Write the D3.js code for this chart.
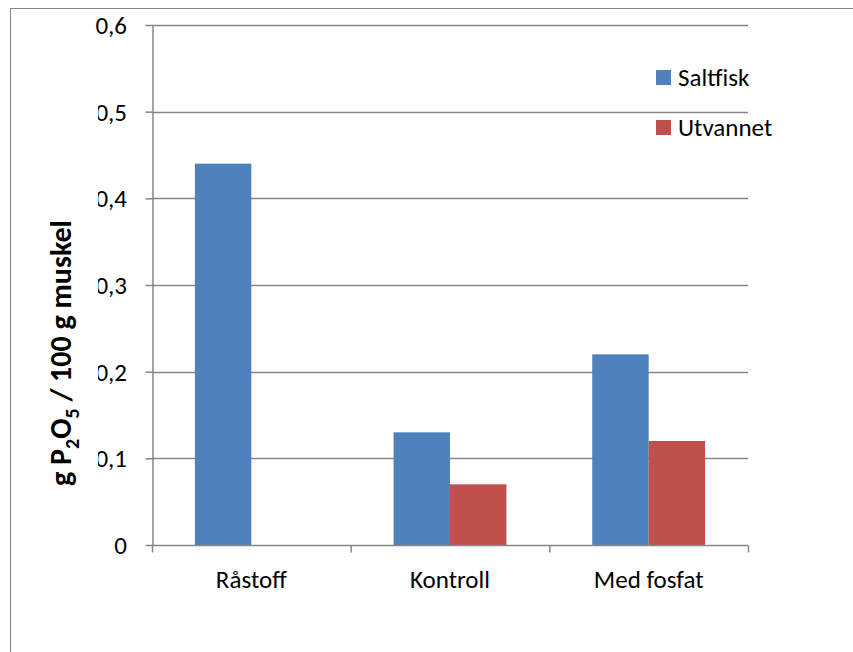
<!DOCTYPE html>
<html>
<head>
<meta charset="utf-8">
<script src="https://cdn.jsdelivr.net/npm/d3@7"></script>
<style>
  body { margin: 0; background: #fff; }
  svg { display: block; font-family: Carlito, Calibri, Lato, sans-serif; }
</style>
</head>
<body>
<div id="chart"></div>
<script>
// data
const categories = ["Råstoff", "Kontroll", "Med fosfat"];
const seriesNames = ["Saltfisk", "Utvannet"];
const saltfisk = [0.44, 0.13, 0.22];
const utvannet = [null, 0.07, 0.12];
const yTicks = [0, 0.1, 0.2, 0.3, 0.4, 0.5, 0.6];

const WIDTH = 853, HEIGHT = 652;
const FONT = 25;
const colors = ["#4F81BD", "#C0504D"];
const gridColor = "#868686";

const svg = d3.select("#chart").append("svg")
    .attr("width", WIDTH)
    .attr("height", HEIGHT);

// chart frame (runs off the right and bottom of the picture)
svg.append("rect")
    .attr("x", 10.5).attr("y", 8.5)
    .attr("width", 900).attr("height", 700)
    .attr("fill", "none")
    .attr("stroke", gridColor);

const plot = { left: 152, right: 748, top: 25, bottom: 545 };

const y = d3.scaleLinear().domain([0, 0.6]).range([plot.bottom, plot.top]);
const x0 = d3.scaleBand().domain(categories).range([plot.left, plot.right]);
const x1 = d3.scaleBand().domain(seriesNames).range([0, x0.bandwidth()]).paddingInner(0).paddingOuter(0.76);

const fmt = d => d === 0 ? "0" : d3.format(".1f")(d).replace(".", ",");

// gridlines
svg.append("g")
    .selectAll("line")
    .data(yTicks.filter(d => d > 0))
    .join("line")
    .attr("x1", plot.left).attr("x2", plot.right)
    .attr("y1", d => Math.round(y(d)) + 0.5).attr("y2", d => Math.round(y(d)) + 0.5)
    .attr("stroke", gridColor).attr("stroke-width", 1.5);

// bars
const data = categories.map((c, i) => ({ cat: c, vals: [saltfisk[i], utvannet[i]] }));
svg.append("g")
    .selectAll("g")
    .data(data)
    .join("g")
    .attr("transform", d => `translate(${x0(d.cat)},0)`)
    .selectAll("rect")
    .data(d => d.vals.map((v, j) => ({ key: seriesNames[j], v, j })).filter(e => e.v != null))
    .join("rect")
    .attr("x", d => x1(d.key))
    .attr("width", x1.bandwidth())
    .attr("y", d => y(d.v))
    .attr("height", d => y(0) - y(d.v))
    .attr("fill", d => colors[d.j]);

// labels below the top one are cut at the left, like in the original
svg.append("clipPath").attr("id", "labelclip")
    .append("rect").attr("x", 98 - (plot.left + 0.5)).attr("y", -40).attr("width", 60).attr("height", 80);

// y axis
const yAxis = svg.append("g")
    .attr("transform", `translate(${plot.left + 0.5},0)`)
    .call(d3.axisLeft(y).tickValues(yTicks).tickFormat(fmt).tickSize(7).tickSizeOuter(0));
yAxis.select(".domain").attr("stroke", gridColor).attr("stroke-width", 1.5);
yAxis.selectAll(".tick line").attr("stroke", gridColor).attr("stroke-width", 1.5);
yAxis.selectAll(".tick text")
    .attr("x", -25.5)
    .attr("dy", "0.34em")
    .attr("font-size", FONT)
    .attr("font-family", "Carlito, Calibri, Lato, sans-serif")
    .attr("fill", "#000")
    .attr("clip-path", d => (d > 0 && d < 0.6) ? "url(#labelclip)" : null);

// x axis
const xAxis = svg.append("g")
    .attr("transform", `translate(0,${plot.bottom + 0.5})`);
xAxis.append("line")
    .attr("x1", plot.left).attr("x2", plot.right)
    .attr("stroke", gridColor).attr("stroke-width", 1.5);
xAxis.selectAll("line.tk")
    .data(categories.map(c => x0(c)).concat([plot.right]))
    .join("line")
    .attr("class", "tk")
    .attr("x1", d => d + 0.5).attr("x2", d => d + 0.5)
    .attr("y1", 0).attr("y2", 7)
    .attr("stroke", gridColor).attr("stroke-width", 1.5);
xAxis.selectAll("text")
    .data(categories)
    .join("text")
    .attr("x", d => x0(d) + x0.bandwidth() / 2)
    .attr("y", 42)
    .attr("text-anchor", "middle")
    .attr("font-size", FONT)
    .attr("fill", "#000")
    .text(d => d);

// y title
const title = svg.append("text")
    .attr("transform", `translate(71,353) rotate(-90)`)
    .attr("text-anchor", "middle")
    .attr("font-size", 30)
    .attr("font-weight", "bold")
    .attr("fill", "#000");
title.append("tspan").text("g P");
title.append("tspan").attr("dy", 8).attr("font-size", 20).text("2");
title.append("tspan").attr("dy", -8).text("O");
title.append("tspan").attr("dy", 8).attr("font-size", 20).text("5");
title.append("tspan").attr("dy", -8).text(" / 100 g muskel");

// legend
const legend = svg.append("g").attr("transform", "translate(656,70)");
const li = legend.selectAll("g")
    .data(seriesNames)
    .join("g")
    .attr("transform", (d, i) => `translate(0,${i * 50})`);
li.append("rect")
    .attr("width", 15).attr("height", 15)
    .attr("fill", (d, i) => colors[i]);
li.append("text")
    .attr("x", 22).attr("y", 16)
    .attr("font-size", FONT)
    .attr("fill", "#000")
    .text(d => d);
</script>
</body>
</html>
